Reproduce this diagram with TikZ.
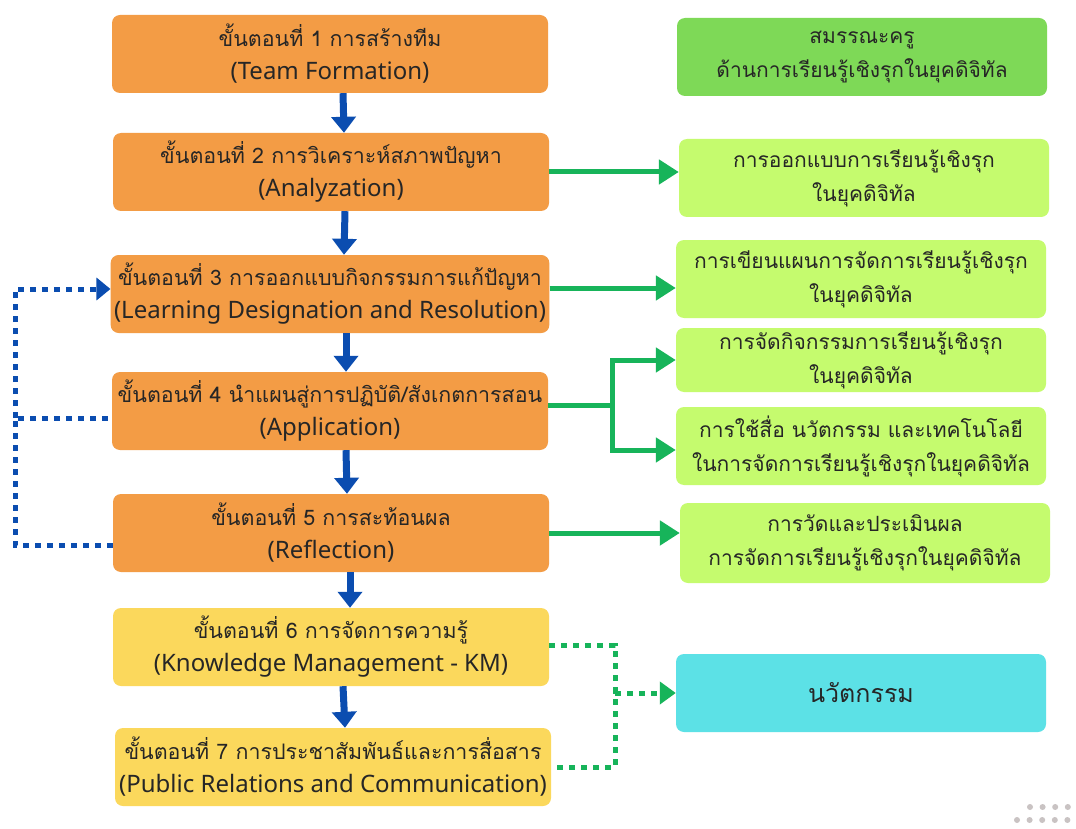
\documentclass[tikz,border=0pt]{standalone}
\usepackage{fontspec}
\setmainfont{Noto Sans}
\newfontfamily\thai[Script=Thai]{Loma}
\usepackage{tikz}
\usetikzlibrary{arrows.meta}

\definecolor{stepor}{HTML}{F39C45}
\definecolor{stepye}{HTML}{FBD85C}
\definecolor{compgr}{HTML}{7ED957}
\definecolor{outgr}{HTML}{C5FB6E}
\definecolor{innocy}{HTML}{5CE1E6}
\definecolor{flowbl}{HTML}{0B4DB0}
\definecolor{flowgr}{HTML}{17B45A}
\definecolor{dotgr}{HTML}{C9C3C3}

\newcommand{\stepth}[1]{{\thai\fontsize{21.4}{33}\selectfont #1}}

\tikzset{
  stepbox/.style={shape=rectangle, rounded corners=8pt, fill=stepor, text=black!85,
    minimum width=436pt, minimum height=78pt, align=center, font=\fontsize{24}{33}\selectfont},
  outbox/.style={shape=rectangle, rounded corners=8pt, fill=outgr, text=black!85,
    minimum width=370pt, minimum height=78pt, align=center, font=\thai\fontsize{21}{34}\selectfont},
  down/.style={draw=flowbl, line width=7pt, -{Triangle[width=24pt,length=16pt]}},
  side/.style={draw=flowgr, line width=5pt, -{Triangle[width=24pt,length=20pt]}},
  bdots/.style={draw=flowbl, line width=5pt, dash pattern=on 6pt off 6pt},
  gdots/.style={draw=flowgr, line width=5pt, dash pattern=on 6pt off 6pt}
}

\begin{document}
\begin{tikzpicture}[x=1pt, y=-1pt]

\fill[white] (0,0) rectangle (1076,829);
\useasboundingbox (0,0) rectangle (1076,829);

% steps
\node[stepbox](s1) at (330,54) {\stepth{ขั้นตอนที่ 1 การสร้างทีม}\\(Team Formation)};
\node[stepbox](s2) at (331,172) {\stepth{ขั้นตอนที่ 2 การวิเคราะห์สภาพปัญหา}\\(Analyzation)};
\node[stepbox](s3) at (330,294) {\stepth{ขั้นตอนที่ 3 การออกแบบกิจกรรมการแก้ปัญหา}\\(Learning Designation and Resolution)};
\node[stepbox](s4) at (330,411) {\stepth{ขั้นตอนที่ 4 นำแผนสู่การปฏิบัติ/สังเกตการสอน}\\(Application)};
\node[stepbox](s5) at (331,533) {\stepth{ขั้นตอนที่ 5 การสะท้อนผล}\\(Reflection)};
\node[stepbox, fill=stepye](s6) at (331,647) {\stepth{ขั้นตอนที่ 6 การจัดการความรู้}\\(Knowledge Management - KM)};
\node[stepbox, fill=stepye](s7) at (333,767) {\stepth{ขั้นตอนที่ 7 การประชาสัมพันธ์และการสื่อสาร}\\(Public Relations and Communication)};

% outcomes
\node[outbox, fill=compgr](r0) at (862,57) {สมรรณะครู\\ด้านการเรียนรู้เชิงรุกในยุคดิจิทัล};
\node[outbox](r1) at (864,178) {การออกแบบการเรียนรู้เชิงรุก\\ในยุคดิจิทัล};
\node[outbox](r2) at (861,279) {การเขียนแผนการจัดการเรียนรู้เชิงรุก\\ในยุคดิจิทัล};
\node[outbox, minimum height=64pt](r3) at (861,360) {การจัดกิจกรรมการเรียนรู้เชิงรุก\\ในยุคดิจิทัล};
\node[outbox](r4) at (861,446) {การใช้สื่อ นวัตกรรม และเทคโนโลยี\\ในการจัดการเรียนรู้เชิงรุกในยุคดิจิทัล};
\node[outbox, minimum height=80pt](r5) at (865,543) {การวัดและประเมินผล\\การจัดการเรียนรู้เชิงรุกในยุคดิจิทัล};
\node[outbox, fill=innocy, font=\thai\fontsize{25}{34}\selectfont](r6) at (861,693) {นวัตกรรม};

\coordinate (fork) at (612,405);
\coordinate (join) at (615,693);
\coordinate (back) at (15,418);

% main flow
\draw[down] ([xshift=13pt]s1.south) -- ([xshift=13pt]s2.north);
\draw[down] ([xshift=14pt]s2.south) -- ([xshift=14pt]s3.north);
\draw[down] ([xshift=16pt]s3.south) -- ([xshift=16pt]s4.north);
\draw[down] ([xshift=16pt]s4.south) -- ([xshift=16pt]s5.north);
\draw[down] ([xshift=19pt]s5.south) -- ([xshift=19pt]s6.north);
\draw[down] ([xshift=12pt]s6.south) -- ([xshift=12pt]s7.north);

% outcomes of the steps
\draw[side] (s2.east) -- (s2.east -| r1.west);
\draw[side] ([yshift=6pt]s3.east) -- ([yshift=6pt]s3.east -| r2.west);
\draw[flowgr, line width=5pt] ([yshift=6pt]s4.east) -- (fork);
\draw[side] (fork) |- (r3.west);
\draw[side] (fork) |- ([yshift=-4pt]r4.west);
\draw[side] (s5.east) -- (s5.east -| r5.west);

% feedback loop
\draw[bdots] ([yshift=-12pt]s5.west) -| (back) -- (s4.west |- back);
\draw[bdots, -{Triangle[width=22pt,length=14pt]}] (back) |- ([yshift=5pt]s3.west);

% innovation
\draw[gdots] ([yshift=2pt]s6.east) -| (join) |- (s7.east);
\draw[gdots, -{Triangle[width=22pt,length=16pt]}] (join) -- (r6.west);

% corner dots
\foreach \i in {0,...,3} \fill[dotgr] (1030+12.6*\i,807) circle (3pt);
\foreach \i in {0,...,4} \fill[dotgr] (1017+12.6*\i,820) circle (3pt);

\end{tikzpicture}
\end{document}
